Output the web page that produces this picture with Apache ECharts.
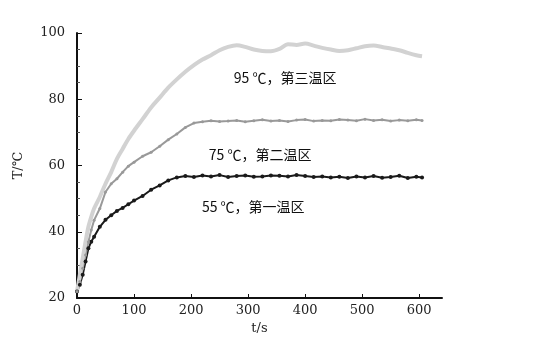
<!DOCTYPE html>
<html>
<head>
<meta charset="utf-8">
<script src="https://cdn.jsdelivr.net/npm/echarts@6/dist/echarts.min.js"></script>
<style>
  html, body { margin: 0; padding: 0; background: #fff; }
  #chart { width: 543px; height: 345px; }
</style>
</head>
<body>
<div id="chart"></div>
<script>
var times = [0, 5, 10, 15, 20, 25, 30, 40, 50, 60, 70, 80, 90, 100,
  115, 130, 145, 160, 175, 190, 205, 220, 235, 250, 265, 280, 295, 310, 325, 340,
  355, 370, 385, 400, 415, 430, 445, 460, 475, 490, 505, 520, 535, 550, 565, 580, 595, 605];

var zone1 = [22, 24, 27, 31, 35, 37, 38.5, 41.5, 43.6, 45, 46.3, 47.2, 48.3, 49.4,
  50.8, 52.7, 54, 55.5, 56.4, 56.8, 56.5, 57, 56.7, 57.1, 56.5, 56.8, 57, 56.6, 56.7, 57,
  56.9, 56.7, 57.1, 56.8, 56.5, 56.7, 56.4, 56.6, 56.2, 56.7, 56.4, 56.8, 56.3, 56.5, 56.9, 56.2, 56.6, 56.4];

var zone2 = [22, 25, 29, 33, 37, 40.5, 43.5, 47, 52, 54.5, 56, 58, 59.8, 61,
  62.8, 64, 65.8, 67.8, 69.5, 71.5, 72.8, 73.2, 73.5, 73.3, 73.4, 73.6, 73.2, 73.5, 73.8, 73.4,
  73.6, 73.3, 73.7, 73.9, 73.4, 73.6, 73.5, 73.9, 73.7, 73.5, 74, 73.6, 73.8, 73.4, 73.7, 73.5, 73.8, 73.6];

var zone3 = [22, 27, 32, 37, 41.5, 44.5, 47, 50.5, 54.5, 58, 62, 65, 68, 70.5,
  74, 77.5, 80.5, 83.5, 86, 88.3, 90.3, 92, 93.3, 94.8, 95.8, 96.3, 95.8, 95, 94.6, 94.5,
  95.2, 96.6, 96.4, 96.8, 96.2, 95.5, 95, 94.6, 94.8, 95.4, 96, 96.2, 95.8, 95.3, 94.8, 94, 93.3, 93];

var zoneNames = ['55 ℃，第一温区', '75 ℃，第二温区', '95 ℃，第三温区'];
var labelPos = [[309, 47.5], [321, 63.2], [365, 86.5]];

function pairs(vals) {
  var out = [];
  for (var i = 0; i < times.length; i++) out.push([times[i], vals[i]]);
  return out;
}

function note(i) {
  return {
    symbol: 'circle',
    symbolSize: 1,
    silent: true,
    itemStyle: { color: 'rgba(0,0,0,0)' },
    label: {
      show: true,
      position: 'inside',
      color: '#111',
      fontSize: 14,
      fontFamily: 'Noto Sans CJK SC',
      formatter: zoneNames[i]
    },
    data: [{ coord: labelPos[i], value: 0 }]
  };
}

var myChart = echarts.init(document.getElementById('chart'));
var option = {
  backgroundColor: '#fff',
  animation: false,
  grid: { left: 77, right: 101, top: 33, bottom: 47 },
  xAxis: {
    type: 'value',
    min: 0,
    max: 640,
    interval: 100,
    name: 't/s',
    nameLocation: 'middle',
    nameGap: 22,
    nameTextStyle: { color: '#222', fontSize: 13, fontFamily: 'DejaVu Serif' },
    axisLine: { lineStyle: { color: '#111', width: 2 } },
    axisTick: { inside: true, length: 4, lineStyle: { color: '#111' } },
    axisLabel: { color: '#222', fontSize: 13, fontFamily: 'DejaVu Serif', showMaxLabel: false, margin: 6 },
    splitLine: { show: false }
  },
  yAxis: {
    type: 'value',
    min: 20,
    max: 100,
    interval: 20,
    name: 'T/℃',
    nameLocation: 'middle',
    nameGap: 52,
    nameTextStyle: { color: '#222', fontSize: 13, fontFamily: 'DejaVu Serif' },
    axisLine: { show: true, lineStyle: { color: '#111', width: 2 } },
    axisTick: { inside: true, length: 5, lineStyle: { color: '#111' } },
    minorTick: { show: true, splitNumber: 4, length: 3, lineStyle: { color: '#555' } },
    axisLabel: { color: '#222', fontSize: 13, fontFamily: 'DejaVu Serif', margin: 12 },
    splitLine: { show: false }
  },
  series: [
    {
      name: zoneNames[0],
      type: 'line',
      data: pairs(zone1),
      symbol: 'circle',
      symbolSize: 4,
      itemStyle: { color: '#1a1a1a' },
      lineStyle: { color: '#1a1a1a', width: 2 },
      markPoint: note(0)
    },
    {
      name: zoneNames[1],
      type: 'line',
      data: pairs(zone2),
      symbol: 'circle',
      symbolSize: 3,
      itemStyle: { color: '#999' },
      lineStyle: { color: '#999', width: 2 },
      markPoint: note(1)
    },
    {
      name: zoneNames[2],
      type: 'line',
      data: pairs(zone3),
      symbol: 'none',
      smooth: 0.3,
      lineStyle: { color: '#d2d2d2', width: 4 },
      markPoint: note(2)
    }
  ]
};
myChart.setOption(option);
</script>
</body>
</html>
